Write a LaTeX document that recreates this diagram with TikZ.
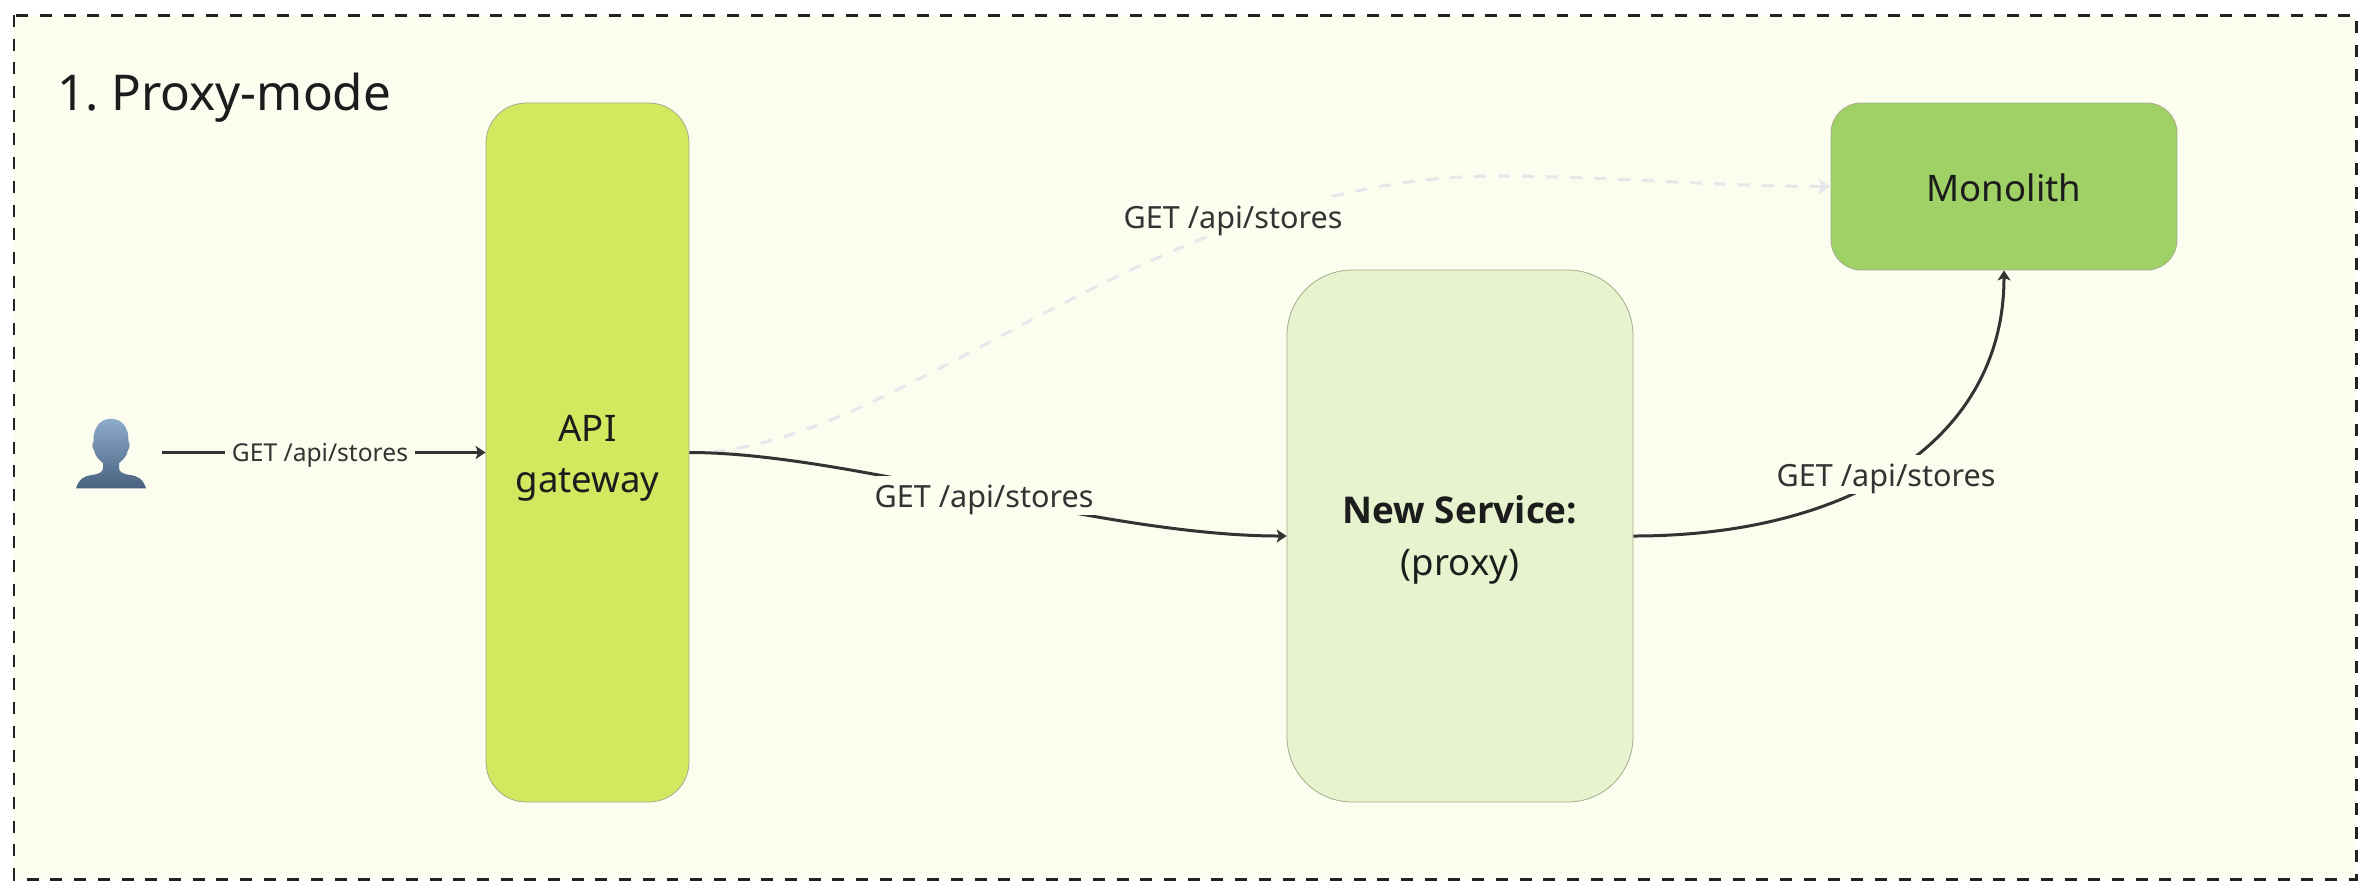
\documentclass[tikz,border=0pt]{standalone}
\usepackage{fontspec}
\setmainfont{Noto Sans}
\newfontfamily\headingface{Open Sans}
\usetikzlibrary{arrows.meta}
\definecolor{framebg}{HTML}{FBFDEE}
\definecolor{framedash}{HTML}{222222}
\definecolor{gatefill}{HTML}{D3E75F}
\definecolor{svcfill}{HTML}{E7F2CF}
\definecolor{monofill}{HTML}{9FD166}
\definecolor{boxline}{HTML}{A3AD8C}
\definecolor{inktext}{HTML}{1C1C1C}
\definecolor{edgeink}{HTML}{333333}
\definecolor{fadedge}{HTML}{E6E7EA}
\definecolor{HeadTop}{HTML}{8EADCB}
\definecolor{BodyBottom}{HTML}{48617F}
\tikzset{
  x=0.02cm,y=-0.02cm,
  framebox/.style={draw=framedash,fill=framebg,line width=0.06cm,dash pattern=on 0.24cm off 0.234cm},
  appbox/.style={rectangle,draw=boxline,line width=0.016cm,inner sep=0pt,align=center,text=inktext,
    font=\fontsize{20.8}{29.2}\selectfont},
  flow/.style={draw=edgeink,line width=0.06cm,-{Stealth[length=0.2cm,width=0.26cm,inset=0.05cm]}},
  fadedflow/.style={draw=fadedge,line width=0.06cm,dash pattern=on 0.24cm off 0.24cm,-{Stealth[length=0.24cm,width=0.3cm,inset=0.06cm]}},
  biglabel/.style={fill=framebg,text=edgeink,inner xsep=0.14cm,inner ysep=0pt,minimum height=0.78cm,
    text height=0.6cm,text depth=0.12cm,font=\fontsize{17.4}{20}\selectfont},
  smalllabel/.style={fill=framebg,text=edgeink,inner xsep=0.14cm,inner ysep=0pt,minimum height=0.6cm,
    text height=0.44cm,text depth=0.1cm,font=\fontsize{14}{16}\selectfont},
  titletext/.style={anchor=base west,inner sep=0pt,text=inktext,font=\fontsize{28.1}{33}\selectfont},
  usershape/.style={top color=HeadTop,bottom color=BodyBottom,draw=none},
}
\begin{document}
\begin{tikzpicture}
\useasboundingbox (0,0) rectangle (2370,894);
\path[framebox] (14,15) rectangle (2356,879);
\node[titletext] (title) at (57,110) {\spaceskip=0.17em\relax 1. Proxy-mode};

% user silhouette
\path[usershape] (76,488.3)
  .. controls (79,479) and (84,476) .. (92,475)
  .. controls (99,474) and (103,472) .. (103,468)
  -- (103,463)
  .. controls (99,460) and (95,456) .. (94,450)
  .. controls (92,449) and (92,443) .. (93.5,441)
  .. controls (93,428) and (100,418.7) .. (111,418.7)
  .. controls (122,418.7) and (129,428) .. (128.5,441)
  .. controls (130,443) and (130,449) .. (128,450)
  .. controls (127,456) and (123,460) .. (119,463)
  -- (119,468)
  .. controls (119,472) and (123,474) .. (130,475)
  .. controls (138,476) and (143,479) .. (146,488.3)
  -- cycle;
\node[minimum width=2.04cm,minimum height=1.4cm,inner sep=0pt] (user) at (111,452.5) {};

\node[appbox,fill=gatefill,minimum width=4.06cm,minimum height=13.98cm,rounded corners=0.8cm] (gateway) at (587.5,452.5) {\rule{0pt}{0.76cm}API\\gateway};
\node[appbox,fill=svcfill,minimum width=6.92cm,minimum height=10.64cm,rounded corners=1.3cm] (service) at (1460,536) {\rule{0pt}{0.72cm}{\fontsize{21}{29.2}\headingface\bfseries New Service:}\\(proxy)};
\node[appbox,fill=monofill,minimum width=6.92cm,minimum height=3.34cm,rounded corners=0.6cm] (monolith) at (2004,186.5) {\rule{0pt}{0.62cm}Monolith};

\coordinate (crest) at (1498,176);
\draw[fadedflow] (gateway.east)
  .. controls +(211,0) and +(-348,0) .. (crest)
  .. controls +(102,0) and +(-111,0) .. (monolith.west);
\node[biglabel] (lblfaded) at (1233,216.5) {GET /api/stores};

\draw[flow] (user.east) -- (gateway.west);
\node[smalllabel] (lbluser) at (320,453) {GET /api/stores};

\draw[flow] (gateway.east) .. controls +(161,0) and +(-187,0) .. (service.west);
\node[biglabel] (lblservice) at (984,495.5) {GET /api/stores};

\draw[flow] (service.east) .. controls +(217,0) and +(0,170) .. (monolith.south);
\node[biglabel] (lblmono) at (1886,474.5) {GET /api/stores};
\end{tikzpicture}
\end{document}
